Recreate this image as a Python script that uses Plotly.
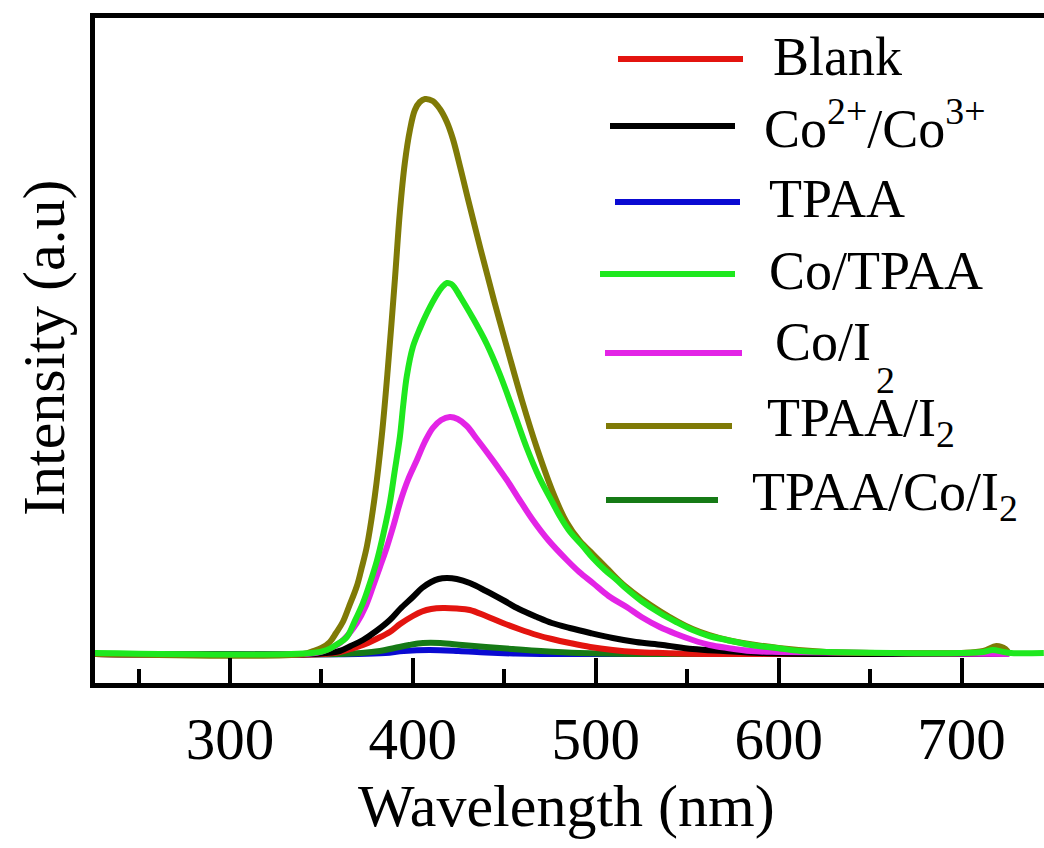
import plotly.graph_objects as go

# ---------------- data (arbitrary units) ----------------
blank_wl = [225, 350, 360, 366, 372.7, 380, 387.4, 393, 400, 405, 410, 416.4, 424, 431.1, 440, 449.2,
            458, 467.8, 476, 485.8, 497, 509.3, 522, 536.6, 560, 726]
blank_int = [0, 0, 2, 5, 9, 15, 22, 30, 38, 42.5, 45, 46, 45.5, 44, 38, 31,
             25, 19, 15, 11, 7, 4, 2, 1, 0, 0]

co_wl = [225, 345, 352, 360, 366, 372.7, 380, 387.4, 393, 400, 405, 410, 414, 418.6, 424, 431.1, 440,
         449.2, 458, 467.8, 476, 485.8, 497, 509.3, 522, 536.6, 553, 570, 589.6, 620, 726]
co_int = [0, 0, 1, 3, 8, 14, 23, 34, 45, 57, 66, 72, 75, 76, 75, 71, 63,
          54, 45, 37, 31, 26, 21, 16, 12, 9, 5, 3, 1, 0, 0]

tpaa_wl = [225, 370, 385, 395, 409, 425, 440, 455, 470, 726]
tpaa_int = [0, 0, 1, 3, 4, 3, 1.5, 0.5, 0, 0]

cotpaa_wl = [225, 345, 353, 358, 363.9, 368, 372.7, 376, 380.3, 384, 387.4, 390, 392.9, 394.8,
             396.7, 400, 404, 407.7, 413, 416, 418.6, 421, 423, 425.7, 432.8, 440.4, 447.5, 455,
             462.3, 469, 476.5, 480.3, 486, 492.9, 498.4, 505, 511.5, 516.9, 525, 535, 544, 553,
             562, 571.6, 585, 598.9, 612, 626.2, 662, 699, 712, 717, 723, 727, 745]
cotpaa_int = [1, 1, 4, 9, 17, 32, 51, 68, 93, 121, 151, 182, 217, 250,
              278, 307, 326, 341, 359, 367, 371, 370, 366, 358, 336, 310, 280, 243,
              206, 177, 151, 138, 122, 108, 96, 84, 74, 65, 53, 41, 32, 24,
              18, 14, 9, 6, 3, 2, 1, 1, 2, 4, 2, 1, 1]

coi2_wl = [225, 340, 349.2, 355, 360.1, 365, 369.4, 374, 378.1, 382, 385.8, 389.5, 392.9, 397.5,
           402.2, 406.5, 410.9, 415.5, 420.2, 424.5, 429.5, 435, 440.4, 446, 451.4, 458, 465.6,
           474, 484.2, 491, 498.4, 507, 516.9, 525, 535, 544, 553, 562.3, 572, 585, 600, 650, 726]
coi2_int = [0, 0, 2, 6, 11, 20, 31, 47, 67, 87, 107, 129, 151, 175,
            194, 212, 226, 234, 237, 235, 228, 215, 202, 188, 174, 155, 134,
            114, 94, 82, 71, 58, 47, 37, 27, 20, 14, 9, 6, 3, 2, 1, 0]

tpaai2_wl = [225, 340, 345.4, 350, 354.6, 358, 361.7, 365, 369.4, 372, 374.9, 379.2, 383, 386.3,
             390.2, 392.9, 395.6, 398.4, 401.1, 403.8, 406.6, 410.9, 414.8, 418.6, 421.9, 426,
             430, 437, 444.3, 452, 459.6, 468, 477.6, 484, 491.3, 498.4, 507, 516, 535, 553, 572,
             600, 626, 662, 700, 712, 719, 724, 726]
tpaai2_int = [0, 0, 3, 6, 12, 21, 32, 47, 68, 86, 108, 158, 218, 285,
              375, 442, 491, 524, 544, 552, 555, 553, 545, 532, 515, 486,
              456, 405, 354, 303, 254, 205, 157, 132, 113, 100, 84, 68, 43, 25, 14,
              6, 2, 1, 1, 3, 8, 5, 0]

tcoi2_wl = [225, 360, 372, 382, 390, 398, 405.5, 415, 427, 440, 454.6, 470, 491, 520, 726]
tcoi2_int = [0, 0, 1, 3, 6, 9, 11, 11, 9, 7, 5, 3, 1, 0, 0]

series = [
    # (name, wl, intensity, colour) in drawing order
    ("TPAA", tpaa_wl, tpaa_int, "#0a0ad2"),
    ("TPAA/Co/I2", tcoi2_wl, tcoi2_int, "#167a16"),
    ("Blank", blank_wl, blank_int, "#e3140f"),
    ("Co2+/Co3+", co_wl, co_int, "#000000"),
    ("Co/I2", coi2_wl, coi2_int, "#e324e6"),
    ("TPAA/I2", tpaai2_wl, tpaai2_int, "#7f7a06"),
    ("Co/TPAA", cotpaa_wl, cotpaa_int, "#1ee81e"),
]

x_ticks = [300, 400, 500, 600, 700]

# ---------------- figure ----------------
W, H = 1044, 848
ML, MR, MT, MB = 95, 0, 18, 165
PW, PH = W - ML - MR, H - MT - MB
FONT = "Liberation Serif"


def px(xp):
    return (xp - ML) / PW


def py(yp):
    return (H - MB - yp) / PH


fig = go.Figure()
for name, wl, it, col in series:
    fig.add_trace(go.Scatter(x=wl, y=it, mode="lines", name=name,
                             line=dict(color=col, width=6, shape="spline", smoothing=1.0),
                             showlegend=False, hoverinfo="skip"))

# legend drawn manually (long sample lines as in the original)
legend = [
    # colour, line x0, x1, line y, text, text x, text centre y
    ("#e3140f", 618, 743, 59, "Blank", 771, 57),
    ("#000000", 610, 735, 126, "Co<sup>2+</sup>/Co<sup>3+</sup>", 762, 124),
    ("#0a0ad2", 615, 740, 202, "TPAA", 767, 199),
    ("#1ee81e", 600, 735, 274, "Co/TPAA", 767, 271),
    ("#e324e6", 605, 742, 353, "Co/I", 773, 342),
    ("#7f7a06", 606, 732, 426, "TPAA/I<sub>2</sub>", 765, 422),
    ("#167a16", 606, 718, 500, "TPAA/Co/I<sub>2</sub>", 750, 495),
]
shapes = []
annotations = []
for col, x0, x1, ly, txt, tx, ty in legend:
    shapes.append(dict(type="line", xref="paper", yref="paper",
                       x0=px(x0), x1=px(x1), y0=py(ly), y1=py(ly),
                       line=dict(color=col, width=6)))
    annotations.append(dict(text=txt, xref="paper", yref="paper", x=px(tx), y=py(ty),
                            xanchor="left", yanchor="middle", showarrow=False,
                            font=dict(family=FONT, size=54, color="black")))
# the oddly placed subscript of Co/I2
annotations.append(dict(text="2", xref="paper", yref="paper", x=px(885), y=py(380),
                        xanchor="center", yanchor="middle", showarrow=False,
                        font=dict(family=FONT, size=38, color="black")))
# axis titles
annotations.append(dict(text="Wavelength (nm)", xref="paper", yref="paper", x=px(566), y=py(806),
                        xanchor="center", yanchor="middle", showarrow=False,
                        font=dict(family=FONT, size=60, color="black")))
annotations.append(dict(text="Intensity (a.u)", xref="paper", yref="paper", x=px(44), y=py(348),
                        xanchor="center", yanchor="middle", showarrow=False, textangle=-90,
                        font=dict(family=FONT, size=60, color="black")))

fig.update_layout(
    width=W, height=H,
    margin=dict(l=ML, r=MR, t=MT, b=MB),
    paper_bgcolor="white", plot_bgcolor="white",
    shapes=shapes, annotations=annotations,
    showlegend=False,
    xaxis=dict(range=[226.2, 745.1], showgrid=False, zeroline=False,
               showline=True, linecolor="black", linewidth=5, mirror=True,
               ticks="inside", ticklen=25, tickwidth=4, tickcolor="black",
               tickvals=x_ticks, ticktext=[str(v) for v in x_ticks],
               ticklabelstandoff=0,
               tickfont=dict(family=FONT, size=59, color="black"),
               minor=dict(ticks="inside", ticklen=14, tickwidth=4, tickcolor="black",
                          tick0=250, dtick=100, showgrid=False)),
    yaxis=dict(range=[-29, 636], showgrid=False, zeroline=False,
               showline=True, linecolor="black", linewidth=5, mirror=False,
               ticks="", showticklabels=False),
)

fig.write_html("out.html")
